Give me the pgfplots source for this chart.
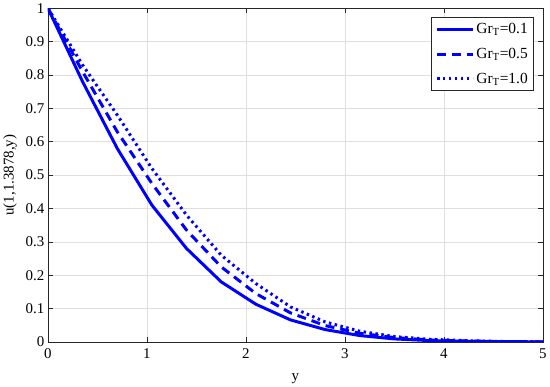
\documentclass[border=0pt]{standalone}
\usepackage{fontspec}
\setmainfont{Liberation Serif}
\usepackage{pgfplots}
\pgfplotsset{compat=1.18}

\definecolor{mblue}{RGB}{0,0,255}
\definecolor{gridgray}{RGB}{223,223,223}
\definecolor{axgray}{RGB}{38,38,38}

\begin{document}
\begin{tikzpicture}
\begin{axis}[
 scale only axis,
 width=497pt,
 height=335pt,
 xmin=0, xmax=5,
 ymin=0, ymax=1,
 xtick={0,1,2,3,4,5},
 ytick={0,0.1,0.2,0.3,0.4,0.5,0.6,0.7,0.8,0.9,1},
 yticklabels={0,0.1,0.2,0.3,0.4,0.5,0.6,0.7,0.8,0.9,1},
 xmajorgrids=true, ymajorgrids=true,
 grid style={gridgray, line width=0.5pt},
 axis line style={axgray, line width=0.6pt},
 tick style={axgray, line width=0.6pt},
 major tick length=5pt,
 tick align=inside,
 font=\fontsize{15}{18}\selectfont,
 /pgf/number format/assume math mode=true,
 xticklabel style={yshift=-3pt},
 xlabel={y},
 ylabel={u(1,1.3878,y)},
 xlabel style={yshift=-8pt},
 ylabel style={yshift=2pt},
 legend style={
  at={(0.982,0.973)}, anchor=north east,
  draw=axgray, fill=white, line width=0.6pt,
  font=\fontsize{15.5}{18}\selectfont,
  row sep=9pt, inner sep=4pt
 },
 legend cell align=left,
 legend image code/.code={\draw[#1, line width=3pt] (0pt,0pt) -- (36pt,0pt);},
]

\addplot[mblue, line width=3pt] coordinates {
 (0,1) (0.35,0.78) (0.7,0.58) (1.05,0.41) (1.4,0.28) (1.75,0.18)
 (2.1,0.113) (2.45,0.066) (2.8,0.037) (3.15,0.019) (3.5,0.009)
 (3.85,0.004) (4.2,0.002) (4.55,0.001) (4.9,0.0003) (5,0)
};
\addlegendentry{Gr\textsubscript{T}=0.1}

\addplot[mblue, line width=3pt, dash pattern=on 9pt off 6pt] coordinates {
 (0,1) (0.35,0.81) (0.7,0.63) (1.05,0.475) (1.4,0.335) (1.75,0.225)
 (2.1,0.145) (2.45,0.087) (2.8,0.049) (3.15,0.026) (3.5,0.013)
 (3.85,0.006) (4.2,0.003) (4.55,0.001) (4.9,0.0005) (5,0)
};
\addlegendentry{Gr\textsubscript{T}=0.5}

\addplot[mblue, line width=3pt, dash pattern=on 2.5pt off 3.5pt] coordinates {
 (0,1) (0.35,0.83) (0.7,0.68) (1.05,0.52) (1.4,0.38) (1.75,0.26)
 (2.1,0.175) (2.45,0.105) (2.8,0.06) (3.15,0.032) (3.5,0.016)
 (3.85,0.008) (4.2,0.004) (4.55,0.0015) (4.9,0.0005) (5,0)
};
\addlegendentry{Gr\textsubscript{T}=1.0}

\end{axis}
\end{tikzpicture}
\end{document}
